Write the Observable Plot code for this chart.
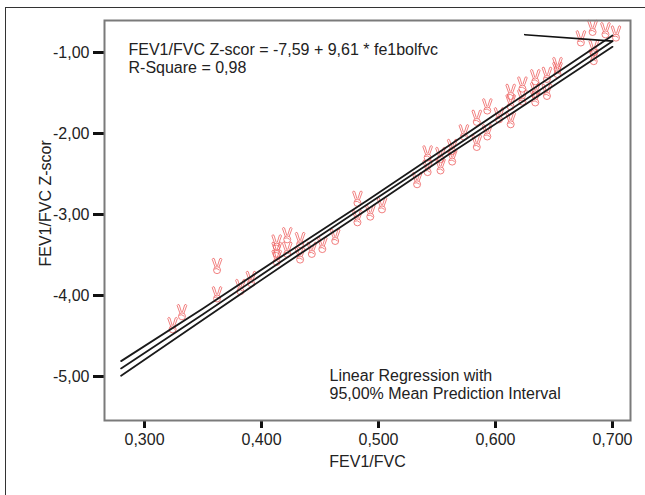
<!DOCTYPE html>
<html><head><meta charset="utf-8">
<script src="https://cdn.jsdelivr.net/npm/d3@7"></script>
<script src="https://cdn.jsdelivr.net/npm/@observablehq/plot@0.6"></script>
<style>
body{margin:0;background:#fff;}
#wrap{position:relative;width:645px;height:495px;overflow:hidden;background:#fff;}
#outer{position:absolute;left:5px;top:7px;width:700px;height:600px;border-top:1.5px solid #333;border-left:1.5px solid #333;}
#wrap svg{position:absolute;left:0;top:0;}
</style></head><body><div id="wrap"><div id="outer"></div></div>
<script>
// observed points: FEV1/FVC ratio and Z-score
const ratio  = [0.324,0.332,0.362,0.362,0.382,0.391,0.413,0.413,0.413,0.422,0.422,0.433,0.433,0.443,0.452,0.463,0.482,0.482,0.493,0.503,0.533,0.542,0.542,0.553,0.553,0.563,0.563,0.573,0.584,0.584,0.593,0.593,0.603,0.613,0.613,0.613,0.623,0.623,0.634,0.634,0.634,0.644,0.644,0.653,0.653,0.673,0.683,0.684,0.684,0.694,0.703];
const zscore = [-4.37,-4.21,-3.64,-3.99,-3.90,-3.80,-3.35,-3.44,-3.54,-3.26,-3.44,-3.32,-3.51,-3.44,-3.38,-3.28,-2.81,-3.05,-2.98,-2.89,-2.58,-2.25,-2.43,-2.27,-2.41,-2.17,-2.30,-1.99,-1.81,-2.12,-1.67,-1.99,-1.78,-1.49,-1.62,-1.84,-1.40,-1.56,-1.31,-1.47,-1.57,-1.28,-1.49,-1.16,-1.22,-0.83,-0.70,-0.95,-1.06,-0.73,-0.77];
// regression line and 95% mean prediction interval
const bandX  = [0.28,0.35,0.42,0.49,0.56,0.63,0.70];
const fitY   = [-4.90,-4.23,-3.55,-2.88,-2.21,-1.54,-0.86];
const upperY = [-4.81,-4.16,-3.49,-2.83,-2.15,-1.47,-0.79];
const lowerY = [-4.99,-4.30,-3.61,-2.94,-2.26,-1.60,-0.93];
// leader line from equation label to the line end
const leaderX = [0.625,0.70];
const leaderY = [-0.78,-0.86];
const xTicks = [0.3,0.4,0.5,0.6,0.7];
const yTicks = [-1,-2,-3,-4,-5];
const eqText = "FEV1/FVC Z-scor = -7,59 + 9,61 * fe1bolfvc";
const r2Text = "R-Square = 0,98";
const legend1 = "Linear Regression with";
const legend2 = "95,00% Mean Prediction Interval";

const pts = ratio.map((r,i)=>({x:r,y:zscore[i]}));
const line = (ys)=>bandX.map((x,i)=>({x,y:ys[i]}));
const leader = leaderX.map((x,i)=>({x,y:leaderY[i]}));
const one = [0];

// "victory hand" marker outline, like the SPSS marker
const hand = {
  draw(c) {
    c.moveTo(3.5, 3.8); c.arc(0, 3.8, 3.5, 0, 2 * Math.PI);
    c.moveTo(-2.0, 0.7); c.lineTo(-4.8, -7.0); c.quadraticCurveTo(-4.2, -8.9, -2.7, -7.6); c.lineTo(-0.5, -0.4);
    c.moveTo(0.5, -0.4); c.lineTo(2.7, -7.6); c.quadraticCurveTo(4.2, -8.9, 4.8, -7.0); c.lineTo(2.0, 0.7);
    c.moveTo(-2.9, 2.7); c.quadraticCurveTo(0, 1.2, 2.5, 3.9);
  }
};

const chart = Plot.plot({
  width:645, height:495,
  marginLeft:104, marginRight:15, marginTop:20, marginBottom:75,
  style:{fontFamily:"'Liberation Sans', Arial, sans-serif", fontSize:"16px", color:"#222", background:"transparent"},
  x:{domain:[0.2658,0.7154]},
  y:{domain:[-5.543,-0.605]},
  marks:[
    Plot.axisX({ticks:xTicks, tickSize:8, tickPadding:5, stroke:"#111", strokeWidth:3, fill:"#222", tickFormat:d=>d.toFixed(3).replace(".",","), label:null}),
    Plot.axisY({ticks:yTicks, tickSize:11, tickPadding:4, stroke:"#111", strokeWidth:3, fill:"#222", tickFormat:d=>d.toFixed(2).replace(".",","), label:null}),
    Plot.dot(pts, {x:"x", y:"y", symbol:hand, r:4, fill:"none", stroke:"#ee6060", strokeWidth:0.8}),
    Plot.line(line(upperY), {x:"x", y:"y", stroke:"#1a1a1a", strokeWidth:1.8}),
    Plot.line(line(fitY), {x:"x", y:"y", stroke:"#1a1a1a", strokeWidth:1.8}),
    Plot.line(line(lowerY), {x:"x", y:"y", stroke:"#1a1a1a", strokeWidth:1.8}),
    Plot.line(leader, {x:"x", y:"y", stroke:"#111", strokeWidth:1.6}),
    Plot.frame({stroke:"#7a7a7a", strokeWidth:2}),
    Plot.text(one, {frameAnchor:"top-left", text:()=>eqText, textAnchor:"start", dx:24, dy:23, fill:"#222", fontSize:16}),
    Plot.text(one, {frameAnchor:"top-left", text:()=>r2Text, textAnchor:"start", dx:24, dy:41, fill:"#222", fontSize:16}),
    Plot.text(one, {frameAnchor:"bottom-left", text:()=>legend1, textAnchor:"start", dx:225, dy:-40, fill:"#222", fontSize:16}),
    Plot.text(one, {frameAnchor:"bottom-left", text:()=>legend2, textAnchor:"start", dx:225, dy:-22, fill:"#222", fontSize:16}),
    Plot.text(one, {frameAnchor:"bottom", text:()=>"FEV1/FVC", dy:46, fill:"#222", fontSize:16}),
    Plot.text(one, {frameAnchor:"left", text:()=>"FEV1/FVC Z-scor", rotate:-90, dx:-59, dy:46, fill:"#222", fontSize:16})
  ]
});
document.getElementById("wrap").appendChild(chart);
</script></body></html>
